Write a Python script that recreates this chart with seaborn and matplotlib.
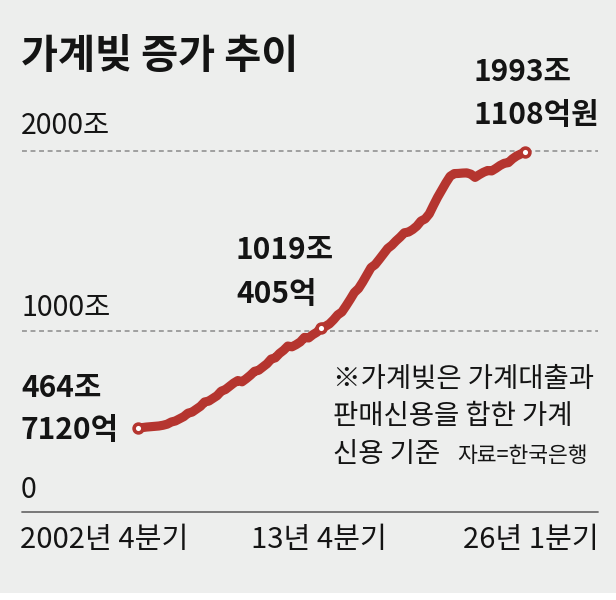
import matplotlib
matplotlib.use("Agg")
import matplotlib.pyplot as plt
import matplotlib.transforms as mtransforms
from matplotlib.patches import Rectangle
import seaborn as sns
import pandas as pd

# ---------------- data (조원, quarterly 2002Q4 .. 2026Q1) ----------------
years_q = []
y, q = 2002, 4
while (y, q) <= (2026, 1):
    years_q.append(f"{y}Q{q}")
    q += 1
    if q == 5:
        q, y = 1, y + 1

debt = [464.7, 465, 468, 470, 472, 474, 478, 484, 496, 502, 514, 526, 545,
        551, 567, 583, 607, 612, 627, 642, 667, 676, 694, 712, 726,
        719, 736, 755, 777, 783, 801, 819, 845, 852, 876, 894, 917,
        913, 925, 940, 965, 962, 980, 994, 1019.0, 1026, 1040, 1063, 1090,
        1106, 1140, 1176, 1214, 1236, 1272, 1312, 1352, 1369, 1398, 1428, 1458,
        1476, 1500, 1521, 1545, 1549, 1563, 1582, 1610, 1622, 1650, 1697, 1742,
        1782, 1822, 1858, 1873, 1874, 1876, 1877, 1870, 1852, 1867, 1880, 1890,
        1888, 1902, 1918, 1930, 1934, 1955, 1971, 1982, 1993.1]

highlight = ["2002Q4", "2013Q4", "2026Q1"]
tick_labels = ["2002년 4분기", "13년 4분기", "26년 1분기"]
y_labels = ["0", "1000조", "2000조"]
y_values = [0, 1000, 2000]
ann_top = ["464조", "1019조", "1993조"]
ann_bot = ["7120억", "405억", "1108억원"]

df = pd.DataFrame({"quarter": years_q, "debt": debt})
df["idx"] = range(len(df))
hl = df[df["quarter"].isin(highlight)]

# ---------------- style ----------------
sns.set_style("white")
plt.rcParams["font.family"] = ["Noto Sans CJK KR", "DejaVu Sans"]

BG = "#edeeed"
RED = "#b5352f"
W, H = 616, 600

fig = plt.figure(figsize=(W / 100, H / 100), dpi=100, facecolor=BG)

# axes: left px 22, right px 598, zero at px 511.5, 2000 at px 150.7
ax_l, ax_r = 22 / W, 598 / W
ax_b = (H - 511.5) / H
ax_t = (H - 150.7) / H
ax = fig.add_axes([ax_l, ax_b, ax_r - ax_l, ax_t - ax_b])
ax.set_facecolor("none")

pxq = (525 - 138) / 93.0
ax.set_xlim(-(138 - 22) / pxq, (598 - 138) / pxq)
ax.set_ylim(0, 2000)

for s in ax.spines.values():
    s.set_visible(False)

# grid lines
for v in y_values[1:]:
    ax.axhline(v, color="#8a8a8a", lw=1.1, ls=(0, (3.2, 2.4)), zorder=1, clip_on=False)
ax.axhline(0, color="#6e6e6e", lw=1.3, zorder=1, clip_on=False)

# line
sns.lineplot(data=df, x="idx", y="debt", ax=ax, color=RED, lw=6.6,
             zorder=3, legend=False)
for ln in ax.lines[-1:]:
    ln.set_solid_joinstyle("round")
    ln.set_solid_capstyle("round")
    ln.set_clip_on(False)

sns.scatterplot(data=hl, x="idx", y="debt", ax=ax, s=40, color="white",
                edgecolor=RED, linewidth=2.6, zorder=5, legend=False, clip_on=False)

# ticks
tick_pos = hl["idx"].tolist()
ax.set_xticks(tick_pos)
ax.set_xticklabels([])
ax.set_yticks([])
ax.tick_params(axis="x", direction="in", length=20 * 0.72, width=1.1,
               color="#6e6e6e", pad=0)
ax.set_xlabel("")
ax.set_ylabel("")

def fx(px):
    return px / W

def fy(py):
    return 1 - py / H

TXT = "#141414"
# y labels
ylab_centers = [490, 307.5, 126]
for lab, cy in zip(y_labels, ylab_centers):
    fig.text(fx(21), fy(cy), lab, fontsize=20.5, ha="left", va="center", color=TXT)

# x tick labels
fig.text(fx(20), fy(540), tick_labels[0], fontsize=21, ha="left", va="center", color=TXT)
trans_mid = mtransforms.blended_transform_factory(ax.transData, fig.transFigure)
ax.text(tick_pos[1] - 0.5, fy(540), tick_labels[1], transform=trans_mid, fontsize=21,
        ha="center", va="center", color=TXT)
fig.text(fx(599), fy(540), tick_labels[2], fontsize=21, ha="right", va="center", color=TXT)

# title
fig.text(fx(21), fy(56), "가계빚 증가 추이", fontsize=29, fontweight="bold",
         ha="left", va="center", color=TXT)

# annotations
ann_pos = [(21, 388, 430), (236, 250, 294), (474, 72, 115)]
for (x0, y1, y2), t1, t2 in zip(ann_pos, ann_top, ann_bot):
    fig.text(fx(x0), fy(y1), t1, fontsize=21.5, fontweight="bold", ha="left",
             va="center", color=TXT)
    fig.text(fx(x0), fy(y2), t2, fontsize=21.5, fontweight="bold", ha="left",
             va="center", color=TXT)

# note
fig.text(fx(333), fy(379), "※가계빚은 가계대출과", fontsize=19.8, ha="left", va="center", color=TXT)
fig.text(fx(333), fy(417), "판매신용을 합한 가계", fontsize=19.8, ha="left", va="center", color=TXT)
fig.text(fx(333), fy(454), "신용 기준", fontsize=19.8, ha="left", va="center", color=TXT)
fig.text(fx(457), fy(456), "자료=한국은행", fontsize=15.5, ha="left", va="center", color=TXT)

# white strip at the bottom
fig.add_artist(Rectangle((0, 0), 1, 7 / H, transform=fig.transFigure,
                         facecolor="white", edgecolor="none", zorder=0))

fig.savefig("out.png", dpi=100, facecolor=BG)
